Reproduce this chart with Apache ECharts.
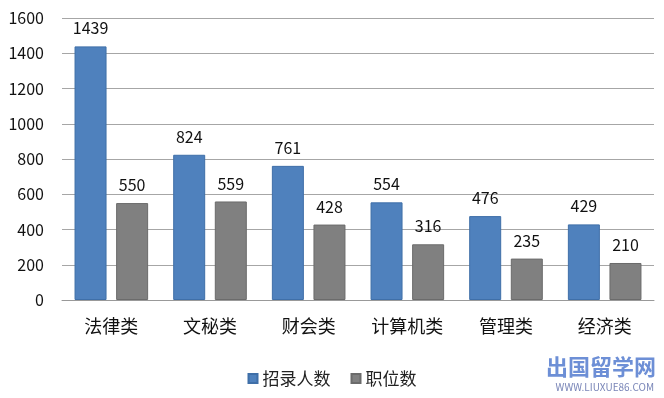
<!DOCTYPE html>
<html>
<head>
<meta charset="utf-8">
<script src="https://cdn.jsdelivr.net/npm/echarts@6/dist/echarts.min.js"></script>
<style>
  html, body { margin: 0; padding: 0; background: #fff; }
  #chart { width: 664px; height: 398px; }
</style>
</head>
<body>
<div id="chart"></div>
<script>
const categories = ['法律类', '文秘类', '财会类', '计算机类', '管理类', '经济类'];
const recruits = [1439, 824, 761, 554, 476, 429];
const positions = [550, 559, 428, 316, 235, 210];
const seriesNames = ['招录人数', '职位数'];

const font = '"Noto Sans CJK SC", "Open Sans", sans-serif';
let myChart = echarts.init(document.getElementById('chart'));
const option = {
  animation: false,
  textStyle: { fontFamily: font },
  grid: { left: 62, right: 10, top: 18, bottom: 98 },
  legend: {
    bottom: 6,
    left: 'center',
    itemWidth: 9,
    itemHeight: 9,
    itemGap: 20,
    icon: 'rect',
    textStyle: { fontSize: 17, color: '#222', fontFamily: font },
    data: seriesNames
  },
  xAxis: {
    type: 'category',
    data: categories,
    axisLine: { lineStyle: { color: '#999' } },
    axisTick: { show: false },
    axisLabel: { fontSize: 18, color: '#111', margin: 17, fontFamily: font }
  },
  yAxis: {
    type: 'value',
    min: 0,
    max: 1600,
    interval: 200,
    axisLine: { show: false },
    axisTick: { show: false },
    axisLabel: { fontSize: 16, color: '#111', margin: 18, fontFamily: font, formatter: v => String(v) },
    splitLine: { lineStyle: { color: '#a6a6a6' } }
  },
  series: [
    {
      name: seriesNames[0],
      type: 'bar',
      data: recruits,
      barWidth: 32,
      barGap: '30%',
      itemStyle: { color: '#4f81bd', borderColor: '#3f6fa8', borderWidth: 1 },
      label: { show: true, position: 'top', distance: 10, fontSize: 16, color: '#111' }
    },
    {
      name: seriesNames[1],
      type: 'bar',
      data: positions,
      barWidth: 32,
      barGap: '30%',
      itemStyle: { color: '#808080', borderColor: '#6b6b6b', borderWidth: 1 },
      label: { show: true, position: 'top', distance: 10, fontSize: 16, color: '#111' }
    }
  ],
  graphic: [
    {
      type: 'text',
      right: 8,
      bottom: 20,
      style: { text: '出国留学网', fontSize: 22, fontWeight: 'bold', fill: '#6d8fd6', fontFamily: font }
    },
    {
      type: 'text',
      right: 10,
      bottom: 6,
      style: { text: 'WWW.LIUXUE86.COM', fontSize: 10, fill: '#7a86b8', fontFamily: font }
    }
  ]
};
myChart.setOption(option);
</script>
</body>
</html>
